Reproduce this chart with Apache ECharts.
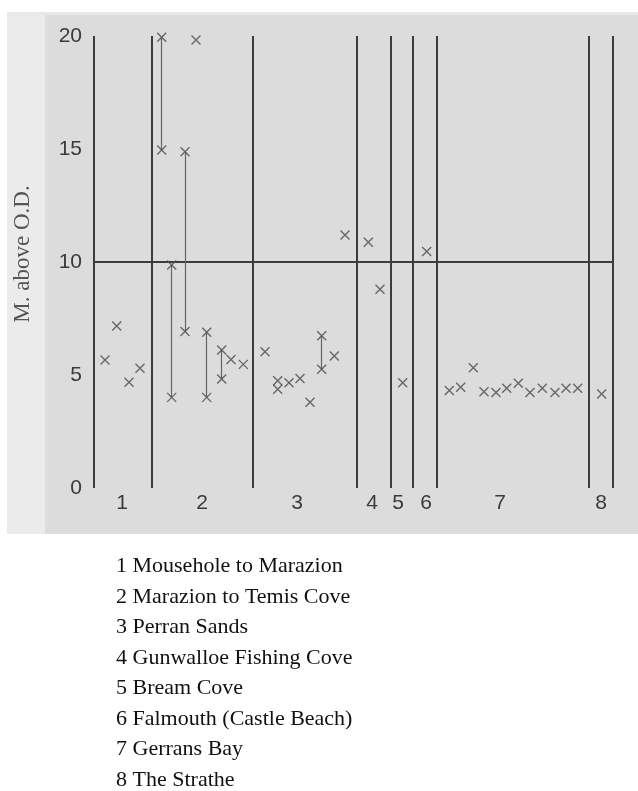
<!DOCTYPE html>
<html>
<head>
<meta charset="utf-8">
<script src="https://cdn.jsdelivr.net/npm/echarts@6/dist/echarts.min.js"></script>
<style>
  html, body { margin: 0; padding: 0; background: #fff; }
  #chart { width: 638px; height: 791px; }
</style>
</head>
<body>
<div id="chart"></div>
<script>
  // horizontal position along the coast (arbitrary units) and height in m above O.D.
  const sectionBounds = [0, 5.8, 15.9, 26.3, 29.7, 31.9, 34.3, 49.5, 51.9]
  const sectionLabelX = [2.8, 10.8, 20.3, 27.8, 30.4, 33.2, 40.6, 50.7]
  const sectionLabels = ['1', '2', '3', '4', '5', '6', '7', '8']
  const siteNames = [
    'Mousehole to Marazion',
    'Marazion to Temis Cove',
    'Perran Sands',
    'Gunwalloe Fishing Cove',
    'Bream Cove',
    'Falmouth (Castle Beach)',
    'Gerrans Bay',
    'The Strathe'
  ]
  const yTicks = [0, 5, 10, 15, 20]
  const refLevel = 10

  const pointX = [
    1.1, 2.27, 3.5, 4.6,
    6.77, 6.77, 7.77, 7.77, 9.1, 9.1, 10.2, 11.27, 11.27, 12.77, 12.77, 13.7, 14.93,
    17.1, 18.37, 18.37, 19.5, 20.6, 21.6, 22.77, 22.77, 24.03,
    25.1, 27.43, 28.6,
    30.87,
    33.27,
    35.53, 36.67, 37.93, 39.0, 40.2, 41.27, 42.43, 43.6, 44.83, 46.1, 47.2, 48.37,
    50.77
  ]
  const pointY = [
    5.66, 7.17, 4.68, 5.3,
    19.94, 14.96, 9.87, 4.01, 14.88, 6.92, 19.82, 6.89, 4.01, 6.11, 4.82, 5.69, 5.47,
    6.03, 4.75, 4.37, 4.66, 4.85, 3.79, 6.74, 5.25, 5.84,
    11.19, 10.87, 8.79,
    4.66,
    10.46,
    4.31, 4.46, 5.32, 4.26, 4.23, 4.41, 4.63, 4.23, 4.41, 4.23, 4.41, 4.41,
    4.16
  ]

  // ranges joined by a thin line
  const rangeX = [6.77, 7.77, 9.1, 11.27, 12.77, 22.77]
  const rangeTop = [19.94, 9.87, 14.88, 6.89, 6.11, 6.74]
  const rangeBottom = [14.96, 4.01, 6.92, 4.01, 4.82, 5.25]

  const chart = echarts.init(document.getElementById('chart'))

  const points = pointX.map((x, i) => [x, pointY[i]])
  const ranges = rangeX.map((x, i) => ({ coords: [[x, rangeTop[i]], [x, rangeBottom[i]]] }))
  const bounds = sectionBounds.map(x => ({ coords: [[x, 0], [x, 20]] }))
  bounds.push({ coords: [[sectionBounds[0], refLevel], [sectionBounds[sectionBounds.length - 1], refLevel]] })

  const sans = '"Liberation Sans", Arial, sans-serif'
  const serif = '"Liberation Serif", "Times New Roman", serif'

  const option = {
    animation: false,
    backgroundColor: '#fff',
    graphic: [
      { type: 'rect', z: -10, shape: { x: 7, y: 12, width: 631, height: 522 }, style: { fill: '#dcdcdc' } },
      { type: 'rect', z: -9, shape: { x: 7, y: 12, width: 38, height: 522 }, style: { fill: '#ebebeb' } },
      { type: 'rect', z: -9, shape: { x: 7, y: 12, width: 631, height: 3 }, style: { fill: '#e8e8e8' } }
    ],
    title: {
      text: siteNames.map((n, i) => sectionLabels[i] + ' ' + n).join('\n'),
      left: 111,
      top: 546,
      textStyle: {
        fontFamily: serif,
        fontSize: 22,
        lineHeight: 30.5,
        fontWeight: 'normal',
        color: '#111'
      }
    },
    grid: { left: 94, right: 25, top: 36, bottom: 303 },
    xAxis: {
      type: 'value',
      min: 0,
      max: sectionBounds[sectionBounds.length - 1],
      axisLine: { show: false },
      axisTick: { show: false },
      splitLine: { show: false },
      axisLabel: {
        customValues: sectionLabelX,
        formatter: v => sectionLabels[sectionLabelX.indexOf(v)],
        margin: 5,
        fontFamily: sans,
        fontSize: 21,
        color: '#3a3a3a'
      }
    },
    yAxis: {
      type: 'value',
      min: 0,
      max: 20,
      interval: 5,
      name: 'M. above O.D.',
      nameLocation: 'middle',
      nameGap: 60,
      nameTextStyle: { fontFamily: serif, fontSize: 23, color: '#555', padding: [0, 0, 0, 16] },
      axisLine: { show: false },
      axisTick: { show: false },
      splitLine: { show: false },
      axisLabel: {
        customValues: yTicks,
        margin: 12,
        fontFamily: sans,
        fontSize: 21,
        color: '#3a3a3a'
      }
    },
    series: [
      {
        type: 'lines',
        coordinateSystem: 'cartesian2d',
        polyline: false,
        silent: true,
        lineStyle: { color: '#3c3c3c', width: 2, opacity: 1 },
        data: bounds
      },
      {
        type: 'lines',
        coordinateSystem: 'cartesian2d',
        silent: true,
        lineStyle: { color: '#666', width: 1.2, opacity: 1 },
        data: ranges
      },
      {
        type: 'scatter',
        symbol: 'path://M0,0L10,10M10,0L0,10',
        symbolSize: 9,
        itemStyle: { color: 'transparent', borderColor: '#4a4a4a', borderWidth: 1.4 },
        data: points
      }
    ]
  }

  chart.setOption(option)
</script>
</body>
</html>
